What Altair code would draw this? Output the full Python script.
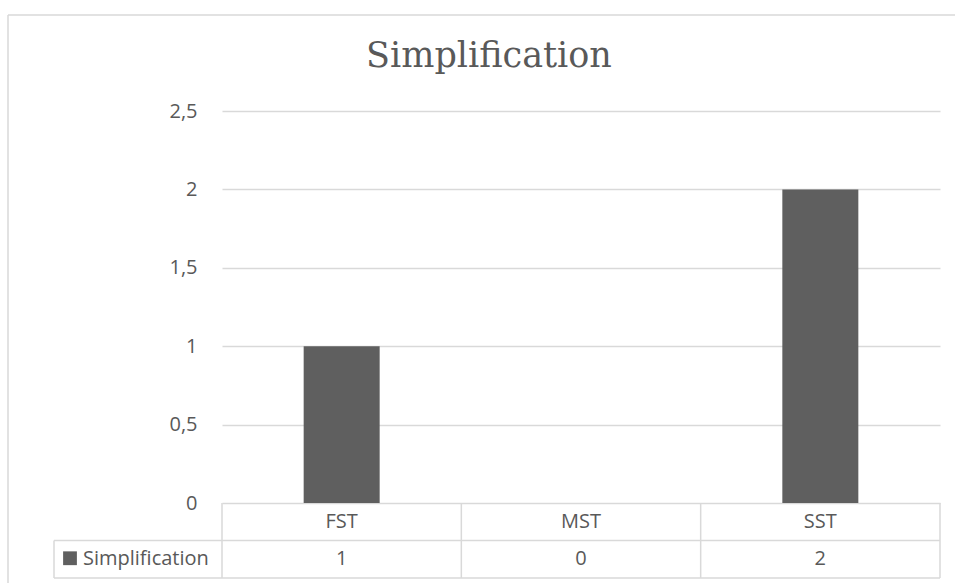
import altair as alt
import pandas as pd

# Chart data
categories = ["FST", "MST", "SST"]
values = [1, 0, 2]
series_name = "Simplification"
chart_title = "Simplification"
y_ticks = [0, 0.5, 1, 1.5, 2, 2.5]

df = pd.DataFrame({"category": categories, "value": values, "series": series_name})
one = pd.DataFrame({"series": [series_name], "title": [chart_title]})

W, H = 718, 392          # plot area
ROW = 37.5               # data-table row height
TEXT_FONT = "Open Sans"
TEXT_COLOR = "#595959"
LINE_COLOR = "#d9d9d9"
BAR_COLOR = "#5f5f5f"

x_scale = alt.Scale(domain=categories, paddingInner=0, paddingOuter=0)
x_enc = alt.X("category:N", scale=x_scale, axis=None, sort=categories)

base = alt.Chart(df)

bars = base.mark_bar(size=76, color=BAR_COLOR).encode(
    x=x_enc,
    y=alt.Y(
        "value:Q",
        scale=alt.Scale(domain=[0, 2.5], nice=False),
        axis=alt.Axis(
            values=y_ticks,
            title=None,
            grid=True,
            gridColor=LINE_COLOR,
            gridWidth=1.5,
            domain=False,
            ticks=False,
            tickSize=0,
            labelPadding=25,
            labelFont=TEXT_FONT,
            labelFontSize=20,
            labelColor=TEXT_COLOR,
            labelExpr="replace(format(datum.value, '~g'), '.', ',')",
        ),
    ),
)

# data table under the plot
header = base.mark_text(font=TEXT_FONT, fontSize=20, color=TEXT_COLOR, baseline="middle").encode(
    x=x_enc, y=alt.value(H + ROW / 2), text="category:N"
)
cells = base.mark_text(font=TEXT_FONT, fontSize=20, color=TEXT_COLOR, baseline="middle").encode(
    x=x_enc, y=alt.value(H + ROW * 1.5), text="value:Q"
)

line = dict(color=LINE_COLOR, strokeWidth=1.5)
col_lines = base.mark_rule(**line).encode(
    x=alt.X("category:N", scale=x_scale, axis=None, sort=categories, bandPosition=0),
    y=alt.value(H),
    y2=alt.value(H + 2 * ROW),
)
right_line = alt.Chart(one).mark_rule(**line).encode(
    x=alt.value(W), y=alt.value(H), y2=alt.value(H + 2 * ROW)
)
legend_left = alt.Chart(one).mark_rule(**line).encode(
    x=alt.value(-168), y=alt.value(H + ROW), y2=alt.value(H + 2 * ROW)
)
row_mid = alt.Chart(one).mark_rule(**line).encode(
    x=alt.value(-168), x2=alt.value(W), y=alt.value(H + ROW)
)
row_bot = alt.Chart(one).mark_rule(**line).encode(
    x=alt.value(-168), x2=alt.value(W), y=alt.value(H + 2 * ROW)
)

legend_key = alt.Chart(one).mark_square(size=190, color=BAR_COLOR, filled=True, opacity=1).encode(
    x=alt.value(-152), y=alt.value(H + ROW * 1.5 - 1)
)
legend_text = alt.Chart(one).mark_text(
    font=TEXT_FONT, fontSize=20, color=TEXT_COLOR, align="left", baseline="middle"
).encode(x=alt.value(-139), y=alt.value(H + ROW * 1.5), text="series:N")

# chart title, centred over the whole chart frame
title = alt.Chart(one).mark_text(
    font="DejaVu Serif", fontSize=35, color=TEXT_COLOR, align="center", baseline="alphabetic"
).encode(x=alt.value(267), y=alt.value(-44), text="title:N")

# outer chart frame
frame_left = alt.Chart(one).mark_rule(**line).encode(
    x=alt.value(-214), y=alt.value(-96), y2=alt.value(H + 100)
)
frame_top = alt.Chart(one).mark_rule(**line).encode(
    x=alt.value(-214), x2=alt.value(W + 40), y=alt.value(-96)
)

chart = alt.layer(
    frame_left, frame_top,
    bars, col_lines, right_line, legend_left, row_mid, row_bot,
    header, cells, legend_key, legend_text, title,
).properties(
    width=W,
    height=H,
    autosize=alt.AutoSizeParams(type="none"),
    padding={"left": 222, "top": 111, "right": 15, "bottom": 80},
).configure_view(stroke=None)

chart.save("out.html", embed_options={"renderer": "svg", "actions": False})
